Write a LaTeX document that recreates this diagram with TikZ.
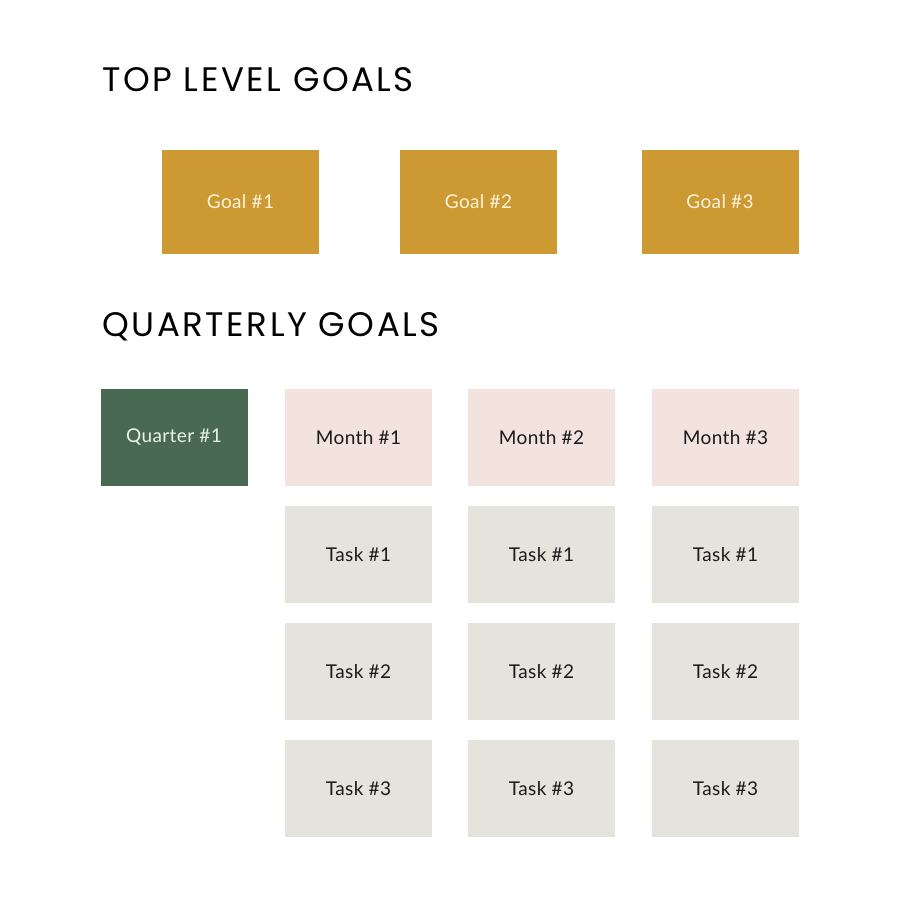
\documentclass[tikz,border=0pt]{standalone}
\usepackage{fontspec}
\setmainfont{Lato}[LetterSpace=2]
\newfontfamily\headfont{Poppins}[LetterSpace=7.5]
\definecolor{goldc}{HTML}{CC9933}
\definecolor{greenc}{HTML}{4A6953}
\definecolor{pinkc}{HTML}{F3E3DF}
\definecolor{grayc}{HTML}{E4E3DC}
\definecolor{creamt}{HTML}{FFF3D9}
\definecolor{lightt}{HTML}{EAF2EA}
\definecolor{darkt}{HTML}{1A1A1A}
\tikzset{
  boxbase/.style={rectangle, inner sep=0pt, font=\fontsize{9.5}{11}\selectfont},
  goalbox/.style={boxbase, fill=goldc, text=creamt, minimum width=78.5pt, minimum height=52pt},
  quarterbox/.style={boxbase, fill=greenc, text=lightt, minimum width=73.5pt, minimum height=48.5pt},
  monthbox/.style={boxbase, fill=pinkc, text=darkt, minimum width=73.5pt, minimum height=48.5pt},
  taskbox/.style={boxbase, fill=grayc, text=darkt, minimum width=73.5pt, minimum height=48.5pt},
  heading/.style={anchor=base west, inner sep=0pt, text=black, font=\headfont\fontsize{17}{20}\selectfont}
}
\begin{document}
\begin{tikzpicture}[x=0.5pt,y=-0.5pt]
\useasboundingbox[fill=white] (0,0) rectangle (900,900);
\node[heading] (h1) at (102,91) {TOP LEVEL GOALS};
\node[heading] (h2) at (102,336) {QUARTERLY GOALS};
\node[goalbox] (g1) at (240.5,202) {Goal \#1};
\node[goalbox] (g2) at (478.5,202) {Goal \#2};
\node[goalbox] (g3) at (720,202) {Goal \#3};
\node[quarterbox] (q1) at (174,437.5) {Quarter \#1};
\foreach \i/\x in {1/358.5,2/541.5,3/725.5}{
  \node[monthbox] (m\i) at (\x,437.5) {Month \#\i};
  \node[taskbox] (t\i a) at (\x,554.5) {Task \#1};
  \node[taskbox] (t\i b) at (\x,671.5) {Task \#2};
  \node[taskbox] (t\i c) at (\x,788.5) {Task \#3};
}
\end{tikzpicture}
\end{document}
